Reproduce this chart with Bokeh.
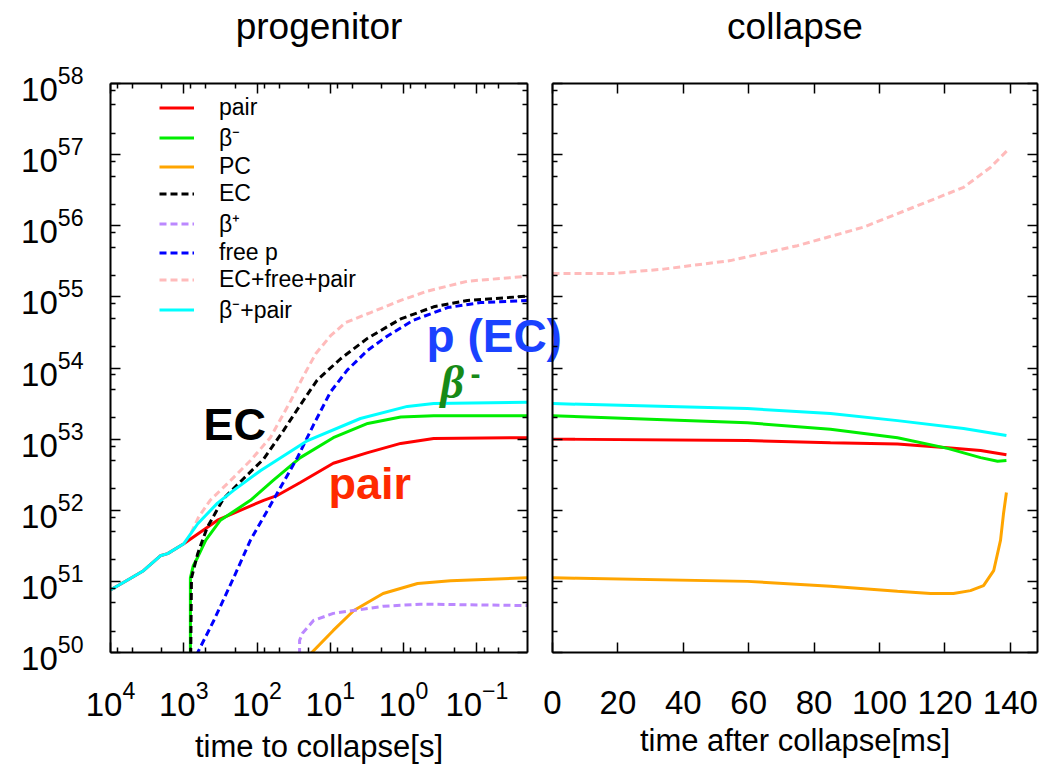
import numpy as np
from bokeh.plotting import figure
from bokeh.layouts import row
from bokeh.models import (Range1d, FixedTicker, LogAxis, LinearAxis, Label,
                          Legend, LegendItem, CustomJSTickFormatter)
from bokeh.embed import file_html
from bokeh.resources import INLINE

FONT = "Liberation Sans"

# ---------------------------------------------------------------------------
# Progenitor phase: log10(time to collapse [s]) and log10(rate)
# ---------------------------------------------------------------------------
prog_pair_logt = [4.0, 3.73, 3.55, 3.32, 3.22, 3.0, 2.54, 1.91, 1.72, 1.41, 0.96, 0.49, 0.04, -0.41, -1.69]
prog_pair_logy = [50.88, 51.04, 51.15, 51.36, 51.39, 51.53, 51.86, 52.14, 52.21, 52.39, 52.66, 52.81, 52.94, 53.01, 53.02]

prog_bminus_logt = [2.91, 2.91, 2.87, 2.81, 2.70, 2.50, 2.09, 1.78, 1.41, 0.96, 0.49, 0.04, -0.41, -1.69]
prog_bminus_logy = [49.5, 51.05, 51.22, 51.34, 51.58, 51.86, 52.14, 52.42, 52.74, 53.02, 53.22, 53.31, 53.33, 53.33]

prog_pc_logt = [1.30, 0.96, 0.68, 0.28, -0.19, -0.64, -1.69]
prog_pc_logy = [49.95, 50.31, 50.59, 50.83, 50.97, 51.01, 51.05]

prog_ec_logt = [2.91, 2.895, 2.81, 2.68, 2.46, 2.19, 1.91, 1.64, 1.41, 1.18, 0.86, 0.49, 0.04, -0.41, -0.87, -1.69]
prog_ec_logy = [49.5, 51.05, 51.39, 51.76, 52.16, 52.44, 52.72, 53.12, 53.48, 53.83, 54.13, 54.42, 54.69, 54.86, 54.95, 55.01]

prog_bplus_logt = [1.42, 1.42, 1.38, 1.23, 0.96, 0.28, -0.23, -1.69]
prog_bplus_logy = [49.5, 50.17, 50.27, 50.45, 50.55, 50.65, 50.68, 50.66]

prog_freep_logt = [2.83, 2.59, 2.32, 2.09, 1.78, 1.45, 1.23, 1.0, 0.77, 0.49, 0.22, -0.13, -0.60, -1.05, -1.69]
prog_freep_logy = [49.96, 50.45, 51.05, 51.58, 52.14, 52.74, 53.20, 53.66, 53.97, 54.25, 54.45, 54.67, 54.85, 54.92, 54.95]

prog_sum_logt = [2.90, 2.80, 2.64, 2.36, 2.09, 1.82, 1.54, 1.36, 1.20, 1.00, 0.79, 0.45, 0.04, -0.32, -0.87, -1.69]
prog_sum_logy = [51.68, 51.90, 52.14, 52.42, 52.70, 53.02, 53.54, 53.90, 54.20, 54.45, 54.64, 54.78, 54.95, 55.08, 55.22, 55.29]

prog_bpair_logt = [4.0, 3.73, 3.55, 3.32, 3.22, 3.0, 2.81, 2.54, 2.32, 1.95, 1.31, 0.59, -0.05, -0.41, -1.69]
prog_bpair_logy = [50.88, 51.04, 51.15, 51.36, 51.39, 51.53, 51.81, 52.10, 52.28, 52.56, 52.98, 53.29, 53.46, 53.50, 53.52]

# ---------------------------------------------------------------------------
# Collapse phase: time after collapse [ms] and log10(rate)
# ---------------------------------------------------------------------------
coll_pair_ms = [0, 59.6, 85, 105.5, 120.8, 130.9, 138.8]
coll_pair_logy = [53.0, 52.98, 52.95, 52.93, 52.88, 52.84, 52.78]

coll_bminus_ms = [0, 59.6, 85, 105.5, 120.8, 130.9, 136.1, 138.8]
coll_bminus_logy = [53.33, 53.23, 53.14, 53.02, 52.87, 52.74, 52.69, 52.70]

coll_pc_ms = [0, 59.6, 85, 105.5, 115.6, 122.6, 127.8, 131.8, 134.9, 137.0, 137.9, 138.8]
coll_pc_logy = [51.05, 51.0, 50.93, 50.86, 50.83, 50.83, 50.87, 50.94, 51.15, 51.58, 51.95, 52.25]

coll_sum_ms = [0, 18.7, 33.9, 54.4, 74.9, 95.1, 110.4, 125.7, 133.9, 139.1]
coll_sum_logy = [55.33, 55.33, 55.39, 55.51, 55.72, 55.98, 56.26, 56.54, 56.82, 57.06]

coll_bpair_ms = [0, 59.6, 85, 105.5, 125.7, 138.8]
coll_bpair_logy = [53.50, 53.43, 53.36, 53.26, 53.15, 53.05]

# Tick positions
y_major = [10.0 ** k for k in range(50, 59)]
y_minor = [m * 10.0 ** k for k in range(50, 58) for m in (2, 5, 8)]
x_major_prog = [10.0 ** k for k in range(4, -2, -1)]
x_minor_prog = [m * 10.0 ** k for k in range(-2, 4) for m in (2, 5, 8)]
x_major_coll = list(range(0, 160, 20))


def pw(a):
    return np.power(10.0, np.asarray(a, dtype=float))


def style_axis(ax, ticker, labels=True, standoff=10):
    ax.ticker = ticker
    ax.axis_line_width = 2
    ax.axis_line_color = "black"
    ax.major_tick_in = 10
    ax.major_tick_out = 0
    ax.minor_tick_in = 5
    ax.minor_tick_out = 0
    ax.major_tick_line_width = 1.5
    ax.minor_tick_line_width = 1.5
    ax.major_tick_line_color = "black"
    ax.minor_tick_line_color = "black"
    ax.major_label_text_font = FONT
    ax.major_label_text_font_size = "33px"
    ax.major_label_text_color = "black"
    ax.axis_label_text_font = FONT
    ax.axis_label_text_font_style = "normal"
    ax.axis_label_text_font_size = "31px"
    ax.axis_label_text_color = "black"
    ax.major_label_standoff = standoff
    if not labels:
        ax.formatter = CustomJSTickFormatter(code="return ''")
        ax.major_label_standoff = 0


def panel_title(ax, text):
    # the top axis carries the panel name
    ax.axis_label = text
    ax.axis_label_text_font_size = "37px"
    ax.axis_label_standoff = 37


def bare(p):
    p.xgrid.visible = False
    p.ygrid.visible = False
    p.outline_line_color = None


y_ticker = FixedTicker(ticks=y_major, minor_ticks=y_minor)
xp_ticker = FixedTicker(ticks=x_major_prog, minor_ticks=x_minor_prog)
xc_ticker = FixedTicker(ticks=x_major_coll, minor_ticks=[])

# ---------------------------------------------------------------------------
# Left panel: progenitor
# ---------------------------------------------------------------------------
p1 = figure(x_axis_type="log", y_axis_type="log",
            x_range=Range1d(1e4, 10 ** -1.69), y_range=Range1d(1e50, 1e58),
            frame_width=417, frame_height=569,
            min_border_left=110, min_border_right=48,
            min_border_top=83, min_border_bottom=121,
            output_backend="svg", toolbar_location=None)
bare(p1)
p1.border_fill_color = "white"

style_axis(p1.xaxis[0], xp_ticker, standoff=28)
style_axis(p1.yaxis[0], y_ticker, standoff=27)
p1.xaxis[0].axis_label = "time to collapse[s]"
p1.xaxis[0].axis_label_standoff = 10
top1 = LogAxis()
style_axis(top1, xp_ticker, labels=False)
panel_title(top1, "progenitor")
p1.add_layout(top1, "above")
right1 = LogAxis()
style_axis(right1, y_ticker, labels=False)
p1.add_layout(right1, "right")

LW = 3
DASH = "7 4"
r_pair = p1.line(pw(prog_pair_logt), pw(prog_pair_logy), color="#ff0000", line_width=LW)
r_bm = p1.line(pw(prog_bminus_logt), pw(prog_bminus_logy), color="#00ee00", line_width=LW)
r_pc = p1.line(pw(prog_pc_logt), pw(prog_pc_logy), color="#ffa500", line_width=LW)
r_ec = p1.line(pw(prog_ec_logt), pw(prog_ec_logy), color="black", line_width=LW, line_dash=DASH)
r_bp = p1.line(pw(prog_bplus_logt), pw(prog_bplus_logy), color="#bb88ff", line_width=LW, line_dash=DASH)
r_fp = p1.line(pw(prog_freep_logt), pw(prog_freep_logy), color="#0000ff", line_width=LW, line_dash=DASH)
r_sum = p1.line(pw(prog_sum_logt), pw(prog_sum_logy), color="#ffbbbb", line_width=LW, line_dash=DASH)
r_bpair = p1.line(pw(prog_bpair_logt), pw(prog_bpair_logy), color="#00ffff", line_width=LW)

legend = Legend(items=[
    LegendItem(label="pair", renderers=[r_pair]),
    LegendItem(label="β⁻", renderers=[r_bm]),
    LegendItem(label="PC", renderers=[r_pc]),
    LegendItem(label="EC", renderers=[r_ec]),
    LegendItem(label="β⁺", renderers=[r_bp]),
    LegendItem(label="free p", renderers=[r_fp]),
    LegendItem(label="EC+free+pair", renderers=[r_sum]),
    LegendItem(label="β⁻+pair", renderers=[r_bpair]),
], location=(49, 327))
legend.border_line_color = None
legend.background_fill_alpha = 0
legend.padding = 0
legend.margin = 0
legend.spacing = 0
legend.glyph_width = 35
legend.glyph_height = 27
legend.label_height = 27
legend.label_standoff = 25
legend.label_text_font = FONT
legend.label_text_font_size = "23px"
legend.label_text_color = "black"
p1.add_layout(legend)

# Curve annotations inside the progenitor frame
p1.add_layout(Label(x=10 ** 2.731, y=10 ** 53.2, text="EC", text_font=FONT,
                    text_font_size="45px", text_font_style="bold", text_color="black",
                    text_baseline="alphabetic"))
p1.add_layout(Label(x=10 ** 1.026, y=10 ** 52.37, text="pair", text_font=FONT,
                    text_font_size="45px", text_font_style="bold", text_color="#ff2a00",
                    text_baseline="alphabetic"))
p1.add_layout(Label(x=10 ** -0.502, y=10 ** 53.80, text="β", text_font="Liberation Serif",
                    text_font_size="46px", text_font_style="bold italic", text_color="#178a17",
                    text_baseline="alphabetic"))
p1.add_layout(Label(x=10 ** -0.911, y=10 ** 53.91, text="-", text_font=FONT,
                    text_font_size="30px", text_font_style="bold", text_color="#178a17",
                    text_baseline="alphabetic"))

# ---------------------------------------------------------------------------
# Transparent strip carrying the "p (EC)" note across the gap between panels
# (pixel units inside the strip)
# ---------------------------------------------------------------------------
note = figure(width=160, height=90, x_range=Range1d(0, 160), y_range=Range1d(0, 90),
              min_border=0, x_axis_location=None, y_axis_location=None,
              output_backend="svg", toolbar_location=None)
bare(note)
note.background_fill_alpha = 0
note.border_fill_alpha = 0
note.add_layout(Label(x=6, y=30, text="p (EC)", text_font=FONT,
                      text_font_size="46px", text_font_style="bold", text_color="#1a42ff",
                      text_baseline="alphabetic"))
note.margin = (290, 0, 0, -155)

# ---------------------------------------------------------------------------
# Right panel: collapse
# ---------------------------------------------------------------------------
p2 = figure(y_axis_type="log",
            x_range=Range1d(0, 148.3), y_range=Range1d(1e50, 1e58),
            frame_width=485, frame_height=569,
            min_border_left=12, min_border_right=2,
            min_border_top=83, min_border_bottom=121,
            output_backend="svg", toolbar_location=None)
bare(p2)
p2.background_fill_alpha = 0
p2.border_fill_alpha = 0

style_axis(p2.xaxis[0], xc_ticker, standoff=38)
p2.xaxis[0].axis_label = "time after collapse[ms]"
p2.xaxis[0].axis_label_standoff = 6
style_axis(p2.yaxis[0], y_ticker, labels=False)
top2 = LinearAxis()
style_axis(top2, xc_ticker, labels=False)
panel_title(top2, "collapse")
p2.add_layout(top2, "above")
right2 = LogAxis()
style_axis(right2, y_ticker, labels=False)
p2.add_layout(right2, "right")

p2.line(coll_pair_ms, pw(coll_pair_logy), color="#ff0000", line_width=LW)
p2.line(coll_bminus_ms, pw(coll_bminus_logy), color="#00ee00", line_width=LW)
p2.line(coll_pc_ms, pw(coll_pc_logy), color="#ffa500", line_width=LW)
p2.line(coll_sum_ms, pw(coll_sum_logy), color="#ffbbbb", line_width=LW, line_dash=DASH)
p2.line(coll_bpair_ms, pw(coll_bpair_logy), color="#00ffff", line_width=LW)

p2.margin = (0, 0, 0, -40)

layout = row(p1, note, p2)
open("out.html", "w").write(file_html(layout, INLINE))
